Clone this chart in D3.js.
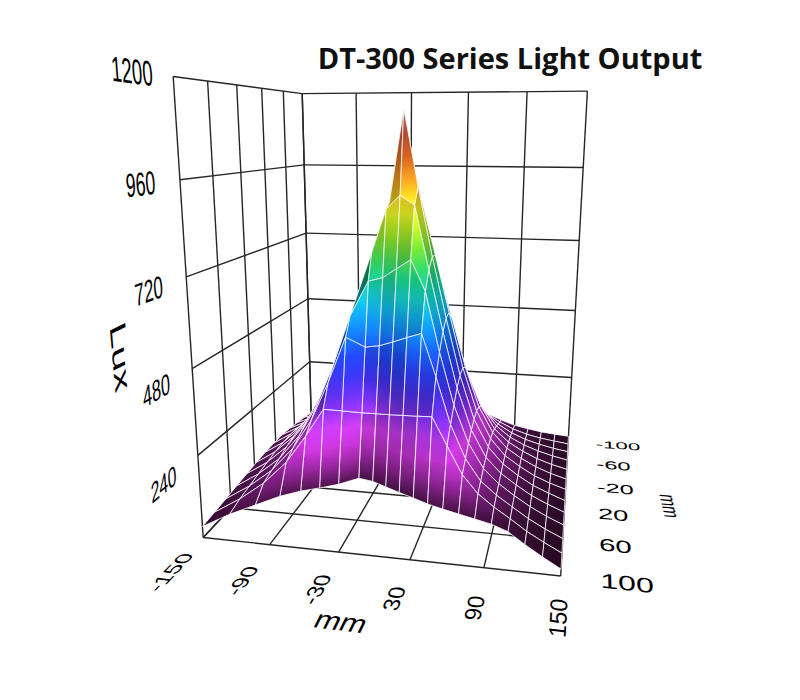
<!DOCTYPE html>
<html>
<head>
<meta charset="utf-8">
<title>DT-300 Series Light Output</title>
<script src="https://cdnjs.cloudflare.com/ajax/libs/d3/7.8.5/d3.min.js"></script>
<style>
  body { margin: 0; background: #fff; }
  svg { display: block; }
</style>
</head>
<body>
<svg id="chart" width="800" height="700"></svg>
<script>
// axis ticks
const xTicks = [-150, -90, -30, 30, 90, 150];
const yTicks = [-100, -60, -20, 20, 60, 100];
const zTicks = [0, 240, 480, 720, 960, 1200];
const zLabels = [240, 480, 720, 960, 1200];

// measurement grid: columns at gx (mm); each column runs from y = -100 to its front edge yEdge,
// sampled at the fractions tRows; lux[i] holds the readings of column i, back to front
const gx = [-150, -135, -120, -105, -90, -75, -60, -45, -30, -15, 0, 15, 30, 45, 60, 75, 90, 105, 120, 135, 150];
const yEdge = [100, 85, 70, 55, 45, 38, 30, 18, 21, 27.5, 34, 40, 46.5, 51.5, 56, 60.5, 65, 71.5, 81, 90.5, 100];
const tRows = [0, 1/12, 2/12, 3/12, 4/12, 5/12, 6/12, 7/12, 8/12, 9/12, 10/12, 11/12, 1];
const lux = [
  [40, 48, 55, 62, 66, 66, 64, 60, 55, 49, 43, 38, 33],
  [50, 61, 72, 81, 87, 90, 88, 84, 77, 69, 61, 53, 40],
  [63, 77, 92, 109, 122, 129, 129, 124, 114, 101, 90, 78, 40],
  [79, 98, 122, 149, 173, 191, 197, 191, 179, 160, 142, 121, 40],
  [98, 128, 164, 204, 244, 274, 290, 288, 273, 251, 222, 191, 40],
  [124, 165, 218, 276, 337, 385, 413, 417, 403, 375, 337, 270, 40],
  [153, 206, 274, 353, 431, 501, 548, 565, 555, 527, 474, 257, 40],
  [181, 242, 320, 408, 501, 587, 657, 702, 712, 630, 434, 237, 40],
  [201, 276, 370, 476, 586, 692, 790, 864, 846, 645, 444, 242, 40],
  [211, 295, 402, 523, 647, 772, 917, 1140, 890, 678, 465, 252, 40],
  [205, 290, 398, 521, 646, 763, 875, 915, 864, 710, 487, 263, 40],
  [181, 255, 352, 459, 565, 652, 704, 708, 676, 621, 507, 273, 40],
  [146, 204, 278, 361, 441, 501, 529, 523, 494, 446, 387, 284, 40],
  [112, 151, 199, 253, 305, 341, 356, 348, 326, 291, 251, 208, 40],
  [84, 107, 136, 166, 195, 213, 220, 213, 200, 181, 156, 132, 40],
  [64, 79, 93, 109, 121, 132, 134, 130, 121, 111, 98, 87, 40],
  [48, 57, 66, 74, 81, 85, 85, 83, 79, 74, 67, 60, 40],
  [38, 42, 48, 53, 57, 59, 59, 57, 55, 51, 47, 43, 38],
  [30, 33, 37, 40, 41, 42, 41, 40, 39, 37, 34, 31, 29],
  [25, 27, 29, 31, 31, 31, 31, 31, 30, 28, 26, 25, 23],
  [21, 22, 24, 25, 25, 25, 25, 24, 24, 23, 22, 21, 19]
];

const xS = d3.scaleLinear().domain([-150, 150]).range([-1, 1]);
const yS = d3.scaleLinear().domain([-100, 100]).range([-1, 1]);
const zS = d3.scaleLinear().domain([0, 1200]).range([0, 1]);

// perspective camera (3x4 matrix, last entry 1), fitted to the box corners
const P = [1.3398, -1.0011, -0.4596, 4.1008, -0.0475, -0.2244, -4.0810, 4.8323, -0.0372, -0.1710, -0.1154];
function proj(x, y, z) {
  const X = xS(x), Y = yS(y), Z = zS(z);
  const w = P[8] * X + P[9] * Y + P[10] * Z + 1;
  return [100 * (P[0] * X + P[1] * Y + P[2] * Z + P[3]) / w,
          100 * (P[4] * X + P[5] * Y + P[6] * Z + P[7]) / w, w];
}

const svg = d3.select('#chart');
const defs = svg.append('defs');
const line = d3.line();

// walls and floor
const grid = svg.append('g').attr('stroke', '#262626').attr('stroke-width', 1.4).attr('fill', 'none');
function seg(a, b) { grid.append('path').attr('d', line([proj(...a), proj(...b)].map(p => [p[0], p[1]]))); }
xTicks.forEach(x => { seg([x, -100, 0], [x, -100, 1200]); seg([x, -100, 0], [x, 100, 0]); });
yTicks.forEach(y => { seg([-150, y, 0], [-150, y, 1200]); seg([-150, y, 0], [150, y, 0]); });
zTicks.forEach(z => { seg([-150, -100, z], [150, -100, z]); seg([-150, -100, z], [-150, 100, z]); });

// surface nodes
const nodes = gx.map((x, i) => {
  const yc = d3.scaleLinear().domain([0, 1]).range([-100, yEdge[i]]);
  return tRows.map((t, j) => [x, yc(t), lux[i][j]]);
});

const color = d3.scaleLinear()
  .domain([0, 30, 70, 130, 190, 260, 340, 420, 500, 580, 660, 760, 850, 930, 1010, 1090, 1140])
  .range(['#1a0614', '#3a0e36', '#6a1a6c', '#a42ab0', '#c838d8', '#7a2cd4', '#3a2ad0', '#1a40e0', '#1080e8',
          '#10b8c8', '#18c070', '#80d020', '#e0e020', '#f0a020', '#d86020', '#c05040', '#d09080'])
  .clamp(true);

// smooth shading from node normals
const light = [0.35, 0.8, 0.5];
const ll = Math.hypot(...light);
const nrm = p => [xS(p[0]), yS(p[1]), 1.5 * zS(p[2])];
const nI = gx.length, nJ = tRows.length;
const shade = nodes.map((col, i) => col.map((p, j) => {
  const a = nrm(nodes[Math.max(i - 1, 0)][j]), b = nrm(nodes[Math.min(i + 1, nI - 1)][j]);
  const c = nrm(nodes[i][Math.max(j - 1, 0)]), d = nrm(nodes[i][Math.min(j + 1, nJ - 1)]);
  const u = [b[0] - a[0], b[1] - a[1], b[2] - a[2]], v = [d[0] - c[0], d[1] - c[1], d[2] - c[2]];
  let n = [u[1] * v[2] - u[2] * v[1], u[2] * v[0] - u[0] * v[2], u[0] * v[1] - u[1] * v[0]];
  if (n[2] < 0) n = n.map(q => -q);
  const lam = Math.max(0, (n[0] * light[0] + n[1] * light[1] + n[2] * light[2]) / (Math.hypot(...n) * ll));
  return 0.45 + 0.75 * lam;
}));
function tint(v, k) { const c = d3.rgb(color(v)); return d3.rgb(c.r * k, c.g * k, c.b * k).formatHex(); }

const dir = Math.sign(proj(-150, -100, 0)[2] - proj(150, 100, 1200)[2]);
const quads = [];
for (let i = 0; i < nI - 1; i++) {
  for (let j = 0; j < nJ - 1; j++) {
    const idx = [[i, j], [i + 1, j], [i + 1, j + 1], [i, j + 1]];
    const c = idx.map(([a, b]) => nodes[a][b]);
    const s = idx.map(([a, b]) => shade[a][b]);
    const pts = c.map(p => proj(...p));
    const vals = c.map(p => p[2]);
    const mu = d3.mean(pts, p => p[0]), mv = d3.mean(pts, p => p[1]), mz = d3.mean(vals);
    let suu = 0, suv = 0, svv = 0, suz = 0, svz = 0;
    pts.forEach((p, k) => {
      const du = p[0] - mu, dv = p[1] - mv, dz = vals[k] - mz;
      suu += du * du; suv += du * dv; svv += dv * dv; suz += du * dz; svz += dv * dz;
    });
    const det = suu * svv - suv * suv;
    const ga = (suz * svv - svz * suv) / det, gb = (svz * suu - suz * suv) / det;
    const g2 = ga * ga + gb * gb;
    const kMin = d3.minIndex(vals), kMax = d3.maxIndex(vals);
    const vMin = vals[kMin], vMax = vals[kMax];
    let fill;
    if (!isFinite(g2) || g2 < 1e-9 || vMax - vMin < 4) {
      fill = tint(mz, d3.mean(s));
    } else {
      const id = 'g' + quads.length;
      const gr = defs.append('linearGradient').attr('id', id).attr('gradientUnits', 'userSpaceOnUse')
        .attr('x1', mu + ga * (vMin - mz) / g2).attr('y1', mv + gb * (vMin - mz) / g2)
        .attr('x2', mu + ga * (vMax - mz) / g2).attr('y2', mv + gb * (vMax - mz) / g2);
      d3.range(5).forEach(k => {
        const t = k / 4;
        gr.append('stop').attr('offset', t)
          .attr('stop-color', tint(vMin + t * (vMax - vMin), s[kMin] + t * (s[kMax] - s[kMin])));
      });
      fill = `url(#${id})`;
    }
    quads.push({ pts, depth: d3.mean(pts, p => p[2]) * dir, fill });
  }
}
quads.sort((a, b) => b.depth - a.depth);
svg.append('g').selectAll('path').data(quads).join('path')
  .attr('d', q => line(q.pts.map(p => [p[0], p[1]])) + 'Z')
  .attr('fill', q => q.fill)
  .attr('stroke', '#fff').attr('stroke-opacity', 0.85).attr('stroke-width', 0.9)
  .attr('stroke-linejoin', 'round');

// text lying in the planes of the box
function label3d(g, txt, at, U, V, anchor) {
  const p0 = proj(...at);
  const pu = proj(at[0] + U[0], at[1] + U[1], at[2] + U[2]);
  const pv = proj(at[0] + V[0], at[1] + V[1], at[2] + V[2]);
  const m = [(pu[0] - p0[0]) / 10, (pu[1] - p0[1]) / 10, -(pv[0] - p0[0]) / 10, -(pv[1] - p0[1]) / 10, p0[0], p0[1]];
  g.append('text').attr('transform', `matrix(${m.map(v => v.toFixed(4)).join(',')})`)
    .attr('text-anchor', anchor || 'middle').attr('dominant-baseline', 'central')
    .attr('font-size', 10).text(txt);
}
const lab = svg.append('g').attr('font-family', 'Liberation Sans, Arial, sans-serif').attr('fill', '#000');
zLabels.forEach(z => label3d(lab, z, [-150, 140, z], [0, -17, 0], [0, 0, 72]));
xTicks.forEach(x => label3d(lab, x, [x, 140, 0], [0, -21, 0], [-17, 0, 0]));
yTicks.forEach(y => label3d(lab, y, [180, y, 0], [24, 0, 0], [0, -22, 0], 'start'));
label3d(lab, 'mm', [0, 165, 0], [22, 0, 0], [0, -22, 0]);
label3d(lab, 'mm', [245, 0, 0], [0, 20, 0], [20, 0, 0]);
label3d(lab, 'Lux', [-150, 170, 600], [0, 0, -95], [0, -20, 0]);

svg.append('text').attr('x', 510).attr('y', 69).attr('text-anchor', 'middle')
  .attr('font-family', 'Open Sans, sans-serif').attr('font-weight', 'bold').attr('font-size', 29)
  .attr('fill', '#111').text('DT-300 Series Light Output');
</script>
</body>
</html>
